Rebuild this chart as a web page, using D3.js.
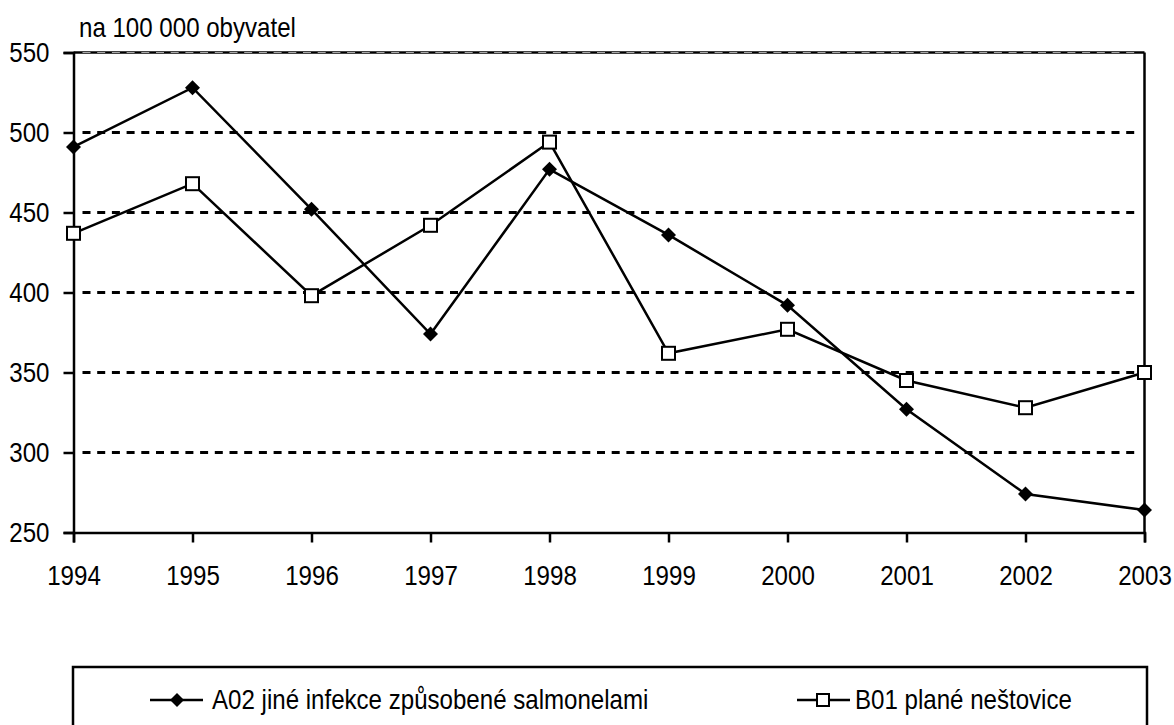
<!DOCTYPE html>
<html>
<head>
<meta charset="utf-8">
<script src="https://cdn.jsdelivr.net/npm/d3@7/dist/d3.min.js"></script>
<style>
  html, body { margin: 0; padding: 0; background: #fff; }
  svg { display: block; }
  text { font-family: "Liberation Sans Narrow", "Arial Narrow", "Liberation Sans", Arial, sans-serif; fill: #000; }
</style>
</head>
<body>
<svg id="chart" width="1174" height="725"></svg>
<script>
const years = [1994, 1995, 1996, 1997, 1998, 1999, 2000, 2001, 2002, 2003];
const salmonellaValues = [491, 528, 452, 374, 477, 436, 392, 327, 274, 264];
const chickenpoxValues = [437, 468, 398, 442, 494, 362, 377, 345, 328, 350];
const yTicks = [250, 300, 350, 400, 450, 500, 550];
const seriesNames = ["A02 jiné infekce způsobené salmonelami", "B01 plané neštovice"];
const unitLabel = "na 100 000 obyvatel";

(function () {
const svg = d3.select("#chart");
const pLeft = 73.5, pRight = 1144.5, pTop = 52.5, pBottom = 532.5;
const FONT = 28, CONDENSE = 0.86;

const x = d3.scalePoint().domain(years).range([pLeft, pRight]);
const y = d3.scaleLinear().domain([250, 550]).range([pBottom, pTop]);

// condense text horizontally (narrow typeface look)
function condense(sel) {
  sel.each(function () {
    const len = this.getComputedTextLength();
    d3.select(this).attr("textLength", len * CONDENSE).attr("lengthAdjust", "spacingAndGlyphs");
  });
}

// gridlines
svg.append("g").selectAll("line")
  .data(yTicks.filter(v => v > 250 && v < 550))
  .join("line")
  .attr("x1", pLeft + 9).attr("x2", pRight - 4)
  .attr("y1", d => y(d)).attr("y2", d => y(d))
  .attr("stroke", "#000")
  .attr("stroke-width", 3)
  .attr("stroke-dasharray", "8,6.7");

// top and right border
svg.append("line").attr("x1", pLeft).attr("x2", pRight).attr("y1", y(550)).attr("y2", y(550))
  .attr("stroke", "#000").attr("stroke-width", 2.5);
svg.append("line").attr("x1", pLeft + 9).attr("x2", pRight - 4).attr("y1", y(550)).attr("y2", y(550))
  .attr("stroke", "#aaa").attr("stroke-width", 1).attr("stroke-dasharray", "8,6.7");
svg.append("line").attr("x1", pRight).attr("x2", pRight).attr("y1", pTop).attr("y2", pBottom)
  .attr("stroke", "#000").attr("stroke-width", 2.5);

// axes
const yAxis = d3.axisLeft(y).tickValues(yTicks).tickSize(10).tickPadding(14).tickFormat(d3.format("d"));
const gy = svg.append("g").attr("transform", `translate(${pLeft},0)`).call(yAxis);
gy.attr("font-family", null).attr("font-size", null);
gy.select(".domain").attr("stroke-width", 2.5);
gy.selectAll(".tick line").attr("stroke-width", 2.5);
gy.selectAll(".tick text").attr("font-size", FONT).call(condense);

const xAxis = d3.axisBottom(x).tickSize(10).tickPadding(23).tickFormat(d3.format("d"));
const gx = svg.append("g").attr("transform", `translate(0,${pBottom})`).call(xAxis);
gx.attr("font-family", null).attr("font-size", null);
gx.select(".domain").attr("stroke-width", 2.5);
gx.selectAll(".tick line").attr("stroke-width", 2.5);
gx.selectAll(".tick text").attr("font-size", FONT).call(condense);

// title
svg.append("text").attr("x", 79).attr("y", 37).attr("font-size", FONT).text(unitLabel).call(condense);

// lines
const line = d3.line().x((d, i) => x(years[i])).y(d => y(d));
svg.append("path").datum(salmonellaValues).attr("d", line)
  .attr("fill", "none").attr("stroke", "#000").attr("stroke-width", 2.5);
svg.append("path").datum(chickenpoxValues).attr("d", line)
  .attr("fill", "none").attr("stroke", "#000").attr("stroke-width", 2.5);

const diamond = (cx, cy, r) => `M${cx},${cy - r}L${cx + r},${cy}L${cx},${cy + r}L${cx - r},${cy}Z`;

svg.append("g").selectAll("path")
  .data(salmonellaValues).join("path")
  .attr("d", (d, i) => diamond(x(years[i]), y(d), 7.5))
  .attr("fill", "#000");

svg.append("g").selectAll("rect")
  .data(chickenpoxValues).join("rect")
  .attr("x", (d, i) => x(years[i]) - 6.5).attr("y", d => y(d) - 6.5)
  .attr("width", 13).attr("height", 13)
  .attr("fill", "#fff").attr("stroke", "#000").attr("stroke-width", 2);

// legend
svg.append("rect").attr("x", 73).attr("y", 667).attr("width", 1074).attr("height", 80)
  .attr("fill", "none").attr("stroke", "#000").attr("stroke-width", 2.5);
const ly = 700;
svg.append("line").attr("x1", 150).attr("x2", 203).attr("y1", ly).attr("y2", ly)
  .attr("stroke", "#000").attr("stroke-width", 2.5);
svg.append("path").attr("d", diamond(177, ly, 7)).attr("fill", "#000");
svg.append("text").attr("x", 212).attr("y", 709).attr("font-size", FONT).text(seriesNames[0]).call(condense);

svg.append("line").attr("x1", 797).attr("x2", 850).attr("y1", ly).attr("y2", ly)
  .attr("stroke", "#000").attr("stroke-width", 2.5);
svg.append("rect").attr("x", 823 - 6).attr("y", ly - 6).attr("width", 12).attr("height", 12)
  .attr("fill", "#fff").attr("stroke", "#000").attr("stroke-width", 2);
svg.append("text").attr("x", 855).attr("y", 709).attr("font-size", FONT).text(seriesNames[1]).call(condense);
})();
</script>
</body>
</html>
